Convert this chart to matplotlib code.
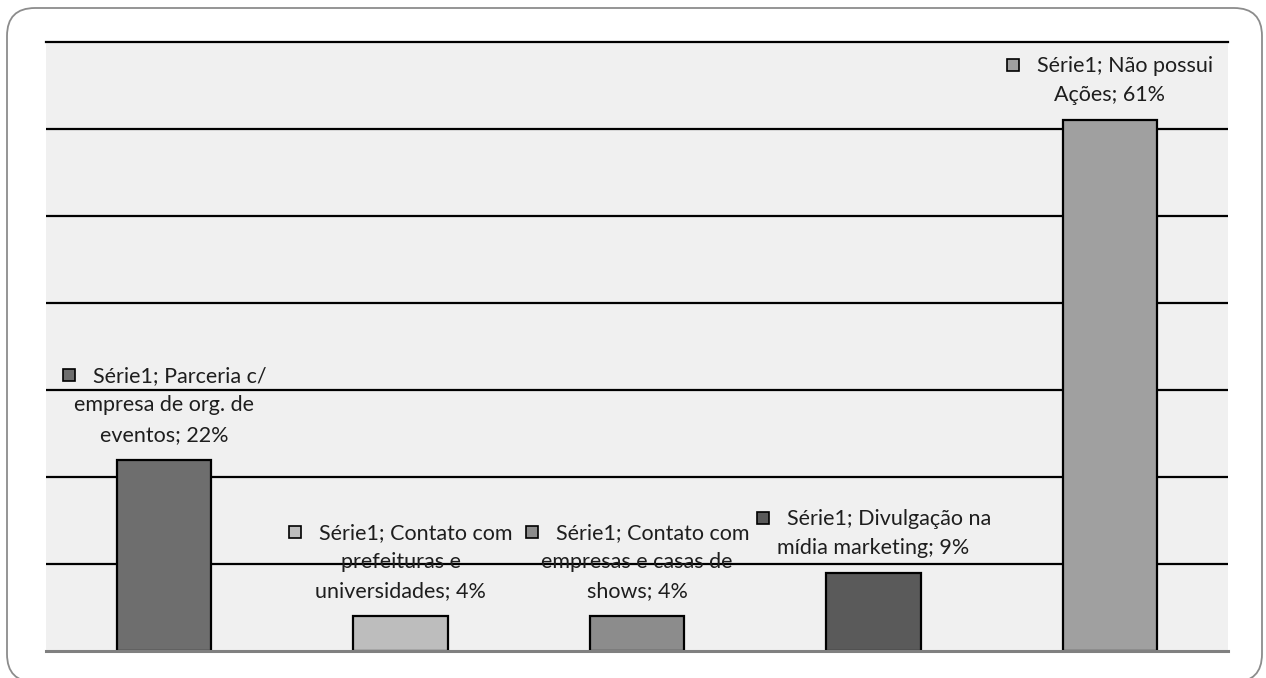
import matplotlib
matplotlib.use("Agg")
import matplotlib.pyplot as plt
from matplotlib.patches import FancyBboxPatch, Rectangle
from matplotlib.transforms import IdentityTransform

# data
categories = ["Parceria c/ empresa de org. de eventos",
              "Contato com prefeituras e universidades",
              "Contato com empresas e casas de shows",
              "Divulgação na mídia marketing",
              "Não possui Ações"]
values = [22, 4, 4, 9, 61]
bar_colors = ["#6e6e6e", "#bdbdbd", "#8c8c8c", "#5a5a5a", "#a0a0a0"]
label_lines = [["Série1; Parceria c/", "empresa de org. de", "eventos; 22%"],
               ["Série1; Contato com", "prefeituras e", "universidades; 4%"],
               ["Série1; Contato com", "empresas e casas de", "shows; 4%"],
               ["Série1; Divulgação na", "mídia marketing; 9%"],
               ["Série1; Não possui", "Ações; 61%"]]

plt.rcParams['font.family'] = ['Lato', 'DejaVu Sans']

fig = plt.figure(figsize=(12.66, 6.78), dpi=100)
fig.patch.set_facecolor("white")

# rounded outer frame (runs slightly off the bottom edge, as in the original)
frame = FancyBboxPatch((7, -4), 1255, 674, boxstyle="round,pad=0,rounding_size=28",
                       transform=IdentityTransform(), facecolor="none",
                       edgecolor="#8c8c8c", linewidth=1.3)
fig.add_artist(frame)

ax = fig.add_axes([46 / 1266, 27 / 678, (1228 - 46) / 1266, (651 - 42) / 678])
ax.set_facecolor("#f0f0f0")

x = list(range(len(values)))
ax.bar(x, values, width=0.4, color=bar_colors, edgecolor="black", linewidth=1.6, zorder=3)

ax.set_xlim(-0.5, len(values) - 0.5)
ax.set_ylim(0, 70)
ax.set_yticks(range(10, 61, 10))
ax.yaxis.grid(True, color="black", linewidth=1.6, zorder=1)
ax.axhline(70, color="black", linewidth=1.6, clip_on=False, zorder=1)
ax.set_axisbelow(True)
ax.set_xticks([])
ax.tick_params(left=False, labelleft=False)
for s in ["left", "right", "top"]:
    ax.spines[s].set_visible(False)
ax.spines["bottom"].set_color("#808080")
ax.spines["bottom"].set_linewidth(2.2)
ax.spines["bottom"].set_zorder(4)

# data labels, one text per line, first line shifted for the legend key
first_lines = []
for i, lines in enumerate(label_lines):
    n = len(lines)
    for k, line in enumerate(lines):
        dy = 18 + (n - 1 - k) * 21
        dx = 11 if k == 0 else 0
        t = ax.annotate(line, xy=(x[i], values[i]), xytext=(dx, dy),
                        textcoords="offset points", ha="center", va="center",
                        fontsize=15.5, color="#1e1e1e", zorder=5, annotation_clip=False)
        if k == 0:
            first_lines.append(t)

fig.canvas.draw()
for i, t in enumerate(first_lines):
    bb = t.get_window_extent()
    cx = bb.x0 - 24
    cy = (bb.y0 + bb.y1) / 2 + 1
    fig.add_artist(Rectangle((cx - 6, cy - 6), 12, 12, transform=IdentityTransform(),
                             facecolor=bar_colors[i], edgecolor="black", linewidth=1.2,
                             zorder=6))

fig.savefig("out.png", dpi=100)
